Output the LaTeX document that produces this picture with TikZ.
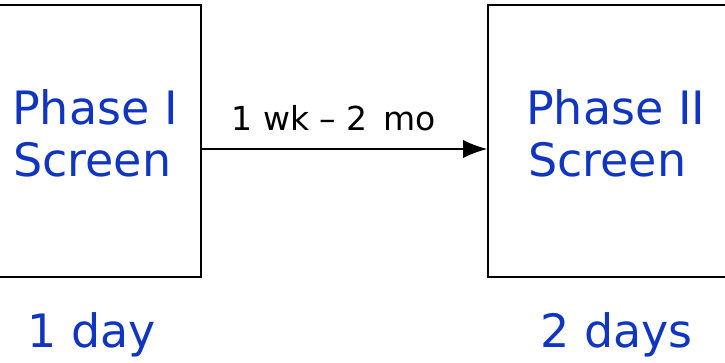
\documentclass[tikz,border=0pt]{standalone}
\usepackage{fontspec}
\setmainfont{DejaVu Sans}
\usetikzlibrary{arrows.meta}
\definecolor{txtblue}{HTML}{1035C0}
\begin{document}
\begin{tikzpicture}[x=1pt,y=1pt,
  phasebox/.style={draw=black,line width=1.6pt,minimum height=272pt,inner sep=0pt},
  bluetxt/.style={text=txtblue,font=\fontsize{46}{52}\selectfont,anchor=base west,inner sep=0pt},
  conn/.style={line width=1.2pt,-{Latex[length=24pt,width=18pt]}}]
\useasboundingbox (0,0) rectangle (725,-362);
\node[phasebox,minimum width=212pt] (p1) at (95,-141) {};
\node[phasebox,minimum width=260pt] (p2) at (618,-141) {};
\node[bluetxt] (t1a) at (12,-124) {Phase I};
\node[bluetxt] (t1b) at (13,-176) {Screen};
\node[bluetxt] (t2a) at (526,-124) {Phase II};
\node[bluetxt] (t2b) at (528,-176) {Screen};
\draw[conn] (p1.east |- 0,-149) coordinate (a1) -- (p2.west |- 0,-149) coordinate (a2);
\node[font=\fontsize{33}{36}\selectfont,anchor=base,inner sep=0pt] (lab) at (334,-130) {1 wk – 2\, mo};
\node[bluetxt] (d1) at (27,-347) {1 day};
\node[bluetxt] (d2) at (540,-347) {2 days};
\end{tikzpicture}
\end{document}
